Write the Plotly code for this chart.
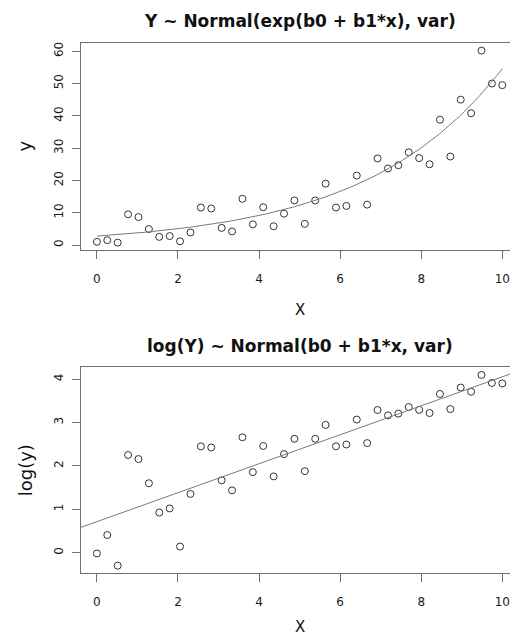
import numpy as np
import plotly.graph_objects as go

# Observations: 40 equally spaced x values on [0, 10]
x = np.linspace(0, 10, 40)
y = [0.98, 1.5, 0.74, 9.5, 8.65, 4.95, 2.52, 2.77, 1.15, 3.87,
     11.6, 11.3, 5.3, 4.2, 14.3, 6.4, 11.7, 5.8, 9.7, 13.8,
     6.55, 13.8, 19.0, 11.6, 12.1, 21.5, 12.5, 26.8, 23.7, 24.7,
     28.7, 26.9, 25.0, 38.8, 27.4, 45.0, 40.8, 60.2, 50.0, 49.5]
y = np.array(y)
log_y = np.log(y)

# Fitted coefficients
nls_b0, nls_b1 = 1.02, 0.298      # Y ~ Normal(exp(b0 + b1*x), var)
lm_b0, lm_b1 = 0.714, 0.334       # log(Y) ~ Normal(b0 + b1*x, var)

x_ticks = [0, 2, 4, 6, 8, 10]
y_ticks_top = [0, 10, 20, 30, 40, 50, 60]
y_ticks_bot = [0, 1, 2, 3, 4]

W, H = 510, 642


def r_range(v):
    lo, hi = float(np.min(v)), float(np.max(v))
    pad = 0.04 * (hi - lo)
    return [lo - pad, hi + pad]


x_rng = r_range(x)
x_rng[1] = 10.19          # plot region runs past the page edge
y_rng_top = r_range(y)
y_rng_bot = r_range(log_y)

LEFT = 80.7
top_box = (42.9, 250.3)
bot_box = (367.3, 573.3)


def ydom(box):
    return [1 - box[1] / H, 1 - box[0] / H]


FONT = "DejaVu Sans, Liberation Sans, sans-serif"
FRAME = "#707070"
PT = "#333333"

fig = go.Figure()

marker = dict(symbol="circle-open", size=7, color=PT, line=dict(width=1, color=PT))

fig.add_trace(go.Scatter(x=x, y=y, mode="markers", marker=marker,
                         xaxis="x", yaxis="y", showlegend=False))
xs = np.linspace(0, 10, 200)
fig.add_trace(go.Scatter(x=xs, y=np.exp(nls_b0 + nls_b1 * xs), mode="lines",
                         line=dict(color="#7a7a7a", width=1),
                         xaxis="x", yaxis="y", showlegend=False))

fig.add_trace(go.Scatter(x=x, y=log_y, mode="markers", marker=marker,
                         xaxis="x2", yaxis="y2", showlegend=False))
xl = np.array(x_rng)
fig.add_trace(go.Scatter(x=xl, y=lm_b0 + lm_b1 * xl, mode="lines",
                         line=dict(color="#7a7a7a", width=1),
                         xaxis="x2", yaxis="y2", showlegend=False))

xax = dict(range=x_rng, domain=[LEFT / W, 1], tickvals=x_ticks,
           ticks="outside", ticklen=8, tickcolor=FRAME, tickwidth=1,
           showline=True, linecolor=FRAME, linewidth=1, mirror=True,
           showgrid=False, zeroline=False,
           tickfont=dict(family=FONT, size=12, color="#1a1a1a"),
           ticklabelstandoff=9)
yax = dict(ticks="outside", ticklen=8, tickcolor=FRAME, tickwidth=1,
           showline=True, linecolor=FRAME, linewidth=1,
           showgrid=False, zeroline=False, tickangle=-90,
           tickfont=dict(family=FONT, size=12, color="#1a1a1a"),
           ticklabelstandoff=4)

fig.update_layout(
    width=W, height=H, autosize=False,
    margin=dict(l=0, r=0, t=0, b=0),
    paper_bgcolor="white", plot_bgcolor="white",
    xaxis=dict(xax, anchor="y"),
    yaxis=dict(yax, range=y_rng_top, domain=ydom(top_box), tickvals=y_ticks_top, anchor="x"),
    xaxis2=dict(xax, anchor="y2"),
    yaxis2=dict(yax, range=y_rng_bot, domain=ydom(bot_box), tickvals=y_ticks_bot, anchor="x2"),
)

cx = (LEFT + 518.5) / 2 / W


def ann(text, xp, yp, size, bold=False, angle=0):
    fig.add_annotation(text=f"<b>{text}</b>" if bold else text,
                       x=xp / W if xp > 1 else xp, y=1 - yp / H,
                       xref="paper", yref="paper", showarrow=False,
                       xanchor="center", yanchor="middle", textangle=angle,
                       font=dict(family=FONT, size=size, color="#111"))


ann("Y ~ Normal(exp(b0 + b1*x), var)", cx, 21, 17, bold=True)
ann("log(Y) ~ Normal(b0 + b1*x, var)", cx, 346, 17, bold=True)
ann("X", cx, 310, 15)
ann("X", cx, 627, 15)
ann("y", 25, (top_box[0] + top_box[1]) / 2, 18, angle=-90)
ann("log(y)", 25, (bot_box[0] + bot_box[1]) / 2, 18, angle=-90)

fig.write_html("out.html")
